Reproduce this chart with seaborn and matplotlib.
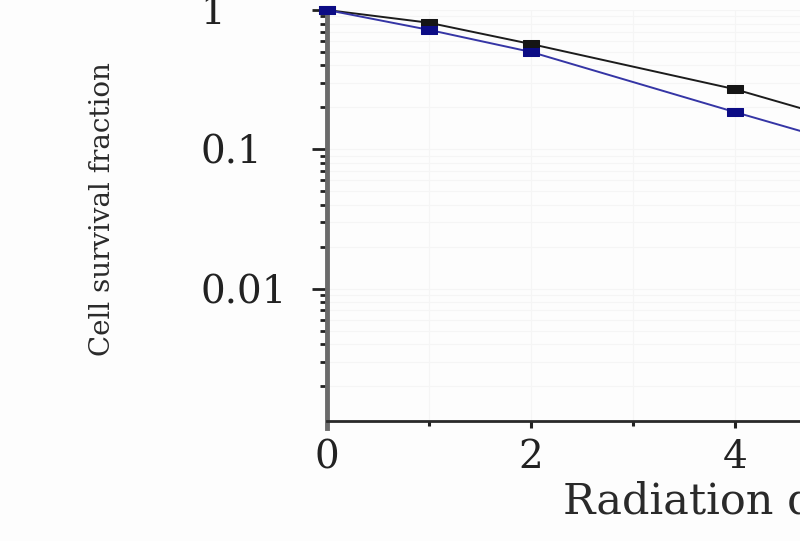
import numpy as np
import pandas as pd
import matplotlib
matplotlib.use("Agg")
import matplotlib.pyplot as plt
from matplotlib.path import Path
from matplotlib.ticker import FixedLocator, LogLocator, NullFormatter, FixedFormatter
import seaborn as sns

# ---- data ----
dose = [0, 1, 2, 4, 6]
survival_a = [1.0, 0.81, 0.57, 0.27, 0.102]   # black squares
survival_b = [1.0, 0.72, 0.50, 0.185, 0.070]  # blue squares
series_names = ["A", "B"]
x_tick_values = [0, 2, 4]
x_tick_labels = ["0", "2", "4"]
y_tick_values = [1, 0.1, 0.01]
y_tick_labels = ["1", "0.1", "0.01"]

df = pd.DataFrame({
    "dose": dose + dose,
    "survival": survival_a + survival_b,
    "series": [series_names[0]] * len(dose) + [series_names[1]] * len(dose),
})

sns.set_style("white")
plt.rcParams["font.family"] = ["DejaVu Serif"]

fig = plt.figure(figsize=(8, 5.41), dpi=100)
fig.patch.set_facecolor("#fdfdfd")
W, H = 800, 541
ax = fig.add_axes([327 / W, 1 - 428 / H, 663 / W, 418 / H])
ax.set_facecolor("#fdfdfd")

rect = Path([(-1.0, -0.5), (1.0, -0.5), (1.0, 0.5), (-1.0, 0.5), (-1.0, -0.5)],
            [Path.MOVETO, Path.LINETO, Path.LINETO, Path.LINETO, Path.CLOSEPOLY])

line_colors = {"A": "#1c1c1c", "B": "#3535a5"}
marker_colors = {"A": "#151515", "B": "#0c0c85"}
for name in series_names:
    sub = df[df["series"] == name]
    sns.lineplot(data=sub, x="dose", y="survival", ax=ax, color=line_colors[name],
                 linewidth=1.4, marker=rect, markersize=11,
                 markerfacecolor=marker_colors[name], markeredgecolor=marker_colors[name],
                 clip_on=False, zorder=3, legend=False)

ax.set_yscale("log")
ax.set_xlim(0, 6.5)
ax.set_ylim(0.001, 1)

# spines
for s in ["top", "right"]:
    ax.spines[s].set_visible(False)
ax.spines["left"].set_color("#6a6a6a")
ax.spines["left"].set_linewidth(3.5)
ax.spines["bottom"].set_color("#2a2a2a")
ax.spines["bottom"].set_linewidth(2.0)
ax.spines["bottom"].set_position(("data", 0.00112))

# x ticks
ax.xaxis.set_major_locator(FixedLocator(x_tick_values))
ax.xaxis.set_major_formatter(FixedFormatter(x_tick_labels))
ax.xaxis.set_minor_locator(FixedLocator([1, 3]))
ax.tick_params(axis="x", which="both", bottom=True)
ax.tick_params(axis="x", which="major", direction="out", length=5, width=2.2,
               color="#222222", pad=8, labelsize=28, labelcolor="#222222")
ax.tick_params(axis="x", which="minor", direction="out", length=3.5, width=2.2,
               color="#222222")

# y ticks
ax.yaxis.set_major_locator(FixedLocator(y_tick_values))
ax.yaxis.set_major_formatter(FixedFormatter(y_tick_labels))
ax.yaxis.set_minor_locator(LogLocator(base=10, subs=np.arange(2, 10)))
ax.yaxis.set_minor_formatter(NullFormatter())
ax.tick_params(axis="y", which="both", left=True)
ax.tick_params(axis="y", which="major", direction="out", length=11, width=2.0,
               color="#222222", pad=80, labelsize=28, labelcolor="#222222")
ax.tick_params(axis="y", which="minor", direction="out", length=5, width=2.0,
               color="#222222")
for lbl in ax.get_yticklabels():
    lbl.set_horizontalalignment("left")

# faint grid
ax.grid(True, which="both", axis="both", color="#f5f5f5", linewidth=0.8)
ax.set_axisbelow(True)

# labels
ax.set_ylabel("Cell survival fraction", fontsize=20, color="#2a2a2a")
ax.yaxis.set_label_coords(-0.339, 0.524)
ax.yaxis.label.set_verticalalignment("center")
ax.yaxis.label.set_horizontalalignment("center")

ax.set_xlabel("Radiation dose (Gy)", fontsize=31, color="#2a2a2a")
ax.xaxis.set_label_coords((563 - 327) / 663, -(502 - 428) / 418)
ax.xaxis.label.set_horizontalalignment("left")
ax.xaxis.label.set_verticalalignment("center")

fig.savefig("out.png", dpi=100, facecolor=fig.get_facecolor())
